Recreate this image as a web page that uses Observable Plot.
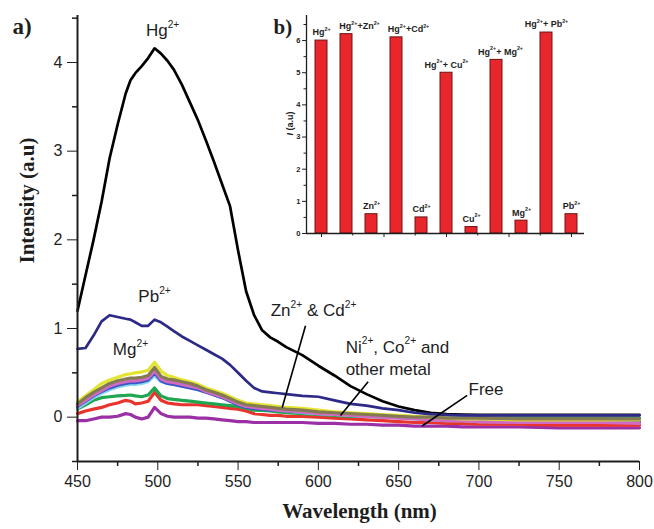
<!DOCTYPE html>
<html><head><meta charset="utf-8">
<script src="https://cdn.jsdelivr.net/npm/d3@7"></script>
<script src="https://cdn.jsdelivr.net/npm/@observablehq/plot@0.6"></script>
<style>
html,body{margin:0;padding:0;background:#fff;}
#wrap{position:relative;width:654px;height:529px;overflow:hidden;background:#fff;}
#wrap svg{position:absolute;overflow:visible;}
</style></head><body><div id="wrap"></div>
<script>
// ---------- Panel a) emission spectra ----------
const wavelengths = [450,455,460,465,470,475,480,483,486,490,494,498,502,506,510,515,520,525,530,535,540,545,550,555,560,565,570,575,580,590,600,610,620,630,640,650,660,670,680,690,700,725,750,775,800];
const hgCurve = [1.20,1.60,2.00,2.43,2.92,3.30,3.65,3.80,3.88,3.96,4.05,4.16,4.10,4.02,3.92,3.75,3.55,3.35,3.12,2.88,2.63,2.38,1.88,1.42,1.15,0.98,0.90,0.85,0.79,0.70,0.58,0.47,0.35,0.26,0.18,0.12,0.08,0.05,0.035,0.03,0.025,0.025,0.025,0.025,0.025];
const pbCurve = [0.77,0.78,0.92,1.08,1.15,1.13,1.11,1.10,1.07,1.03,1.03,1.10,1.07,1.02,0.97,0.91,0.86,0.81,0.76,0.71,0.66,0.59,0.50,0.41,0.33,0.29,0.28,0.27,0.26,0.24,0.23,0.19,0.15,0.13,0.10,0.08,0.05,0.035,0.025,0.02,0.02,0.02,0.02,0.02,0.02];
const yellowCurve = [0.17,0.24,0.31,0.38,0.42,0.45,0.48,0.49,0.50,0.51,0.53,0.62,0.52,0.47,0.45,0.42,0.40,0.37,0.33,0.30,0.27,0.23,0.19,0.16,0.15,0.14,0.13,0.12,0.11,0.10,0.08,0.06,0.05,0.04,0.03,0.02,0.01,0.00,-0.01,-0.02,-0.02,-0.03,-0.03,-0.03,-0.03];
const oliveCurve = [0.15,0.22,0.28,0.33,0.38,0.41,0.43,0.44,0.44,0.45,0.47,0.56,0.46,0.43,0.42,0.40,0.38,0.35,0.31,0.28,0.25,0.21,0.17,0.14,0.13,0.12,0.11,0.10,0.09,0.08,0.06,0.05,0.04,0.03,0.02,0.01,0.00,0.00,-0.01,-0.01,-0.01,-0.02,-0.02,-0.02,-0.02];
const pinkCurve = [0.13,0.19,0.25,0.30,0.35,0.38,0.40,0.41,0.41,0.42,0.44,0.52,0.43,0.40,0.39,0.37,0.35,0.33,0.29,0.26,0.23,0.19,0.15,0.12,0.11,0.10,0.09,0.08,0.07,0.06,0.04,0.03,0.02,0.01,0.00,-0.01,-0.02,-0.03,-0.04,-0.04,-0.05,-0.06,-0.06,-0.06,-0.07];
const blueCurve = [0.12,0.18,0.24,0.29,0.33,0.36,0.38,0.39,0.39,0.40,0.42,0.50,0.41,0.38,0.37,0.35,0.33,0.31,0.28,0.25,0.22,0.18,0.14,0.11,0.10,0.09,0.08,0.08,0.07,0.06,0.05,0.04,0.03,0.02,0.01,0.00,-0.01,-0.02,-0.03,-0.03,-0.04,-0.05,-0.05,-0.05,-0.05];
const cyanCurve = [0.10,0.16,0.22,0.27,0.31,0.34,0.36,0.37,0.37,0.38,0.40,0.47,0.40,0.38,0.37,0.35,0.34,0.32,0.30,0.27,0.24,0.20,0.16,0.13,0.11,0.10,0.09,0.08,0.07,0.05,0.04,0.03,0.02,0.01,0.00,-0.01,-0.02,-0.03,-0.04,-0.04,-0.05,-0.05,-0.06,-0.05,-0.05];
const greenCurve = [0.09,0.14,0.19,0.22,0.23,0.24,0.245,0.25,0.24,0.23,0.25,0.33,0.24,0.21,0.20,0.19,0.18,0.17,0.16,0.15,0.14,0.13,0.12,0.10,0.08,0.075,0.07,0.06,0.05,0.04,0.03,0.02,0.01,0.01,0.00,0.00,0.00,-0.01,-0.01,-0.01,-0.01,-0.01,-0.01,-0.01,-0.01];
const redCurve = [0.04,0.07,0.09,0.11,0.14,0.16,0.19,0.18,0.15,0.16,0.18,0.28,0.19,0.16,0.15,0.14,0.14,0.14,0.13,0.12,0.11,0.10,0.09,0.07,0.04,0.03,0.02,0.02,0.01,0.01,0.00,-0.01,-0.02,-0.03,-0.04,-0.05,-0.06,-0.06,-0.07,-0.07,-0.08,-0.08,-0.09,-0.09,-0.09];
const purpleCurve = [-0.04,-0.04,-0.02,0.00,0.00,0.01,0.04,0.03,0.00,-0.02,0.00,0.11,0.04,0.01,0.00,0.00,0.00,-0.01,-0.01,-0.02,-0.03,-0.04,-0.05,-0.05,-0.06,-0.06,-0.06,-0.06,-0.06,-0.06,-0.07,-0.07,-0.08,-0.08,-0.09,-0.09,-0.10,-0.10,-0.10,-0.11,-0.11,-0.11,-0.12,-0.12,-0.12];

const seriesNames  = ["Free","Cu2+","Ni2+","Co2+","other","Cd2+","Zn2+","Mg2+","Hg2+","Pb2+"];
const seriesValues = [purpleCurve,redCurve,greenCurve,cyanCurve,blueCurve,pinkCurve,yellowCurve,oliveCurve,hgCurve,pbCurve];
const seriesColors = ["#9a2fa6","#e8342c","#1fa650","#86d6ee","#3a55c8","#d06ac4","#e4e530","#847a52","#000000","#2c2a86"];

const xTicks = [450,500,550,600,650,700,750,800];
const xMinor = [475,525,575,625,675,725,775];
const yTicks = [0,1,2,3,4];
const yMinor = [-0.5,0.5,1.5,2.5,3.5,4.5];

const annotText = ["Hg^{2+}","Pb^{2+}","Mg^{2+}","Zn^{2+} & Cd^{2+}","Ni^{2+}, Co^{2+} and","other metal","Free"];
const annotX = [503,498,483,597,617,617,693.5];
const annotY = [4.36,1.36,0.76,1.20,0.79,0.54,0.31];
const pointerX1 = [592,631,692.7], pointerY1 = [1.03,0.40,0.245];
const pointerX2 = [577.5,613.8,664.6], pointerY2 = [0.11,0.02,-0.10];

// ---------- Panel b) bar inset ----------
const barLabels = ["Hg^{2+}","Hg^{2+}+Zn^{2+}","Zn^{2+}","Hg^{2+}+Cd^{2+}","Cd^{2+}","Hg^{2+}+ Cu^{2+}","Cu^{2+}","Hg^{2+}+ Mg^{2+}","Mg^{2+}","Hg^{2+}+ Pb^{2+}","Pb^{2+}"];
const barValues = [6.0,6.2,0.6,6.1,0.5,5.0,0.2,5.4,0.4,6.25,0.6];
const insetYTicks = [0,1,2,3,4,5,6];
const insetYMinor = [0.5,1.5,2.5,3.5,4.5,5.5,6.5];
const insetXTicks = [1,3.5,6,8.5,11];
const insetXMinor = [2.25,4.75,7.25,9.75];

const SANS = '"Liberation Sans", Arial, Helvetica, sans-serif';
const SERIF = '"Liberation Serif", "Times New Roman", Times, serif';
const INK = "#1e1e1e";

const lineMarks = seriesValues.map((vals, i) => {
  const rows = wavelengths.map((w, j) => ({w, v: vals[j], name: seriesNames[i]}));
  const isDark = seriesColors[i] === "#000000" || seriesColors[i] === "#2c2a86";
  return Plot.line(rows, {x: "w", y: "v", stroke: seriesColors[i], strokeWidth: isDark ? 2.7 : 3.2, strokeLinejoin: "round", curve: "linear"});
});

const annots = annotText.map((t, i) => ({t, x: annotX[i], y: annotY[i]}));
const pointers = pointerX1.map((x1, i) => ({x1, y1: pointerY1[i], x2: pointerX2[i], y2: pointerY2[i]}));

const main = Plot.plot({
  width: 654, height: 529,
  marginLeft: 77, marginRight: 15, marginTop: 15, marginBottom: 68,
  style: {fontFamily: SANS, fontSize: "16px", color: INK, background: "transparent", overflow: "visible"},
  x: {domain: [450, 800], ticks: xTicks, tickSize: 9, tickPadding: 5, label: null, tickFormat: d => String(d)},
  y: {domain: [-0.5, 4.53], ticks: yTicks, tickSize: 10, tickPadding: 5, label: null, tickFormat: d => String(d)},
  marks: [
    ...lineMarks,
    Plot.ruleX([450], {stroke: INK, strokeWidth: 2}),
    Plot.ruleY([-0.5], {stroke: INK, strokeWidth: 2}),
    Plot.ruleX(xMinor, {y1: -0.5, y2: -0.5, insetBottom: -5, stroke: INK, strokeWidth: 1.5}),
    Plot.ruleY(yMinor, {x1: 450, x2: 450, insetLeft: -5, stroke: INK, strokeWidth: 1.5}),
    Plot.link(pointers, {x1: "x1", y1: "y1", x2: "x2", y2: "y2", stroke: "#000", strokeWidth: 1.6}),
    Plot.text(annots.slice(0, 4), {x: "x", y: "y", text: "t", textAnchor: "middle", fontSize: 17, fill: INK}),
    Plot.text(annots.slice(4), {x: "x", y: "y", text: "t", textAnchor: "start", fontSize: 17, fill: INK}),
    Plot.text(["a)"], {frameAnchor: "top-left", textAnchor: "start", dx: -65, dy: 2, fontSize: 23, fontWeight: "bold", fontFamily: SERIF, fill: INK}),
    Plot.text(["Wavelength (nm)"], {frameAnchor: "bottom", dx: 1, dy: 56, fontSize: 21, fontWeight: "bold", fontFamily: SERIF, fill: INK}),
    Plot.text(["Intensity (a.u)"], {frameAnchor: "left", rotate: -90, dx: -50, dy: 25, fontSize: 21, fontWeight: "bold", fontFamily: SERIF, fill: INK})
  ]
});
main.style.left = "0px"; main.style.top = "0px";

const barRows = barLabels.map((label, i) => ({pos: i + 1, v: barValues[i], label}));
const labelShift = {"Hg^{2+}+Zn^{2+}": 13, "Hg^{2+}+Cd^{2+}": 12, "Hg^{2+}+ Mg^{2+}": 4};

const inset = Plot.plot({
  width: 340, height: 260,
  marginLeft: 46, marginRight: 16, marginTop: 15, marginBottom: 27,
  style: {fontFamily: SANS, fontSize: "7.5px", fontWeight: "bold", color: INK, background: "transparent", overflow: "visible"},
  x: {domain: [0.4, 11.52], ticks: insetXTicks, tickSize: 4, tickFormat: () => "", label: null},
  y: {domain: [0, 6.78], ticks: insetYTicks, tickSize: 4, tickPadding: 2, label: null, tickFormat: d => String(d)},
  marks: [
    Plot.rectY(barRows, {x1: d => d.pos - 0.5, x2: d => d.pos + 0.5, y1: 0, y2: "v", insetLeft: 6.5, insetRight: 6.5, fill: "#e8262b", stroke: "#6b1414", strokeWidth: 1}),
    Plot.ruleX([0.4], {stroke: INK, strokeWidth: 1.3}),
    Plot.ruleY([0], {stroke: INK, strokeWidth: 1.3}),
    Plot.ruleX(insetXMinor, {y1: 0, y2: 0, insetBottom: -2.5, stroke: INK, strokeWidth: 1}),
    Plot.ruleY(insetYMinor, {x1: 0.4, x2: 0.4, insetLeft: -2.5, stroke: INK, strokeWidth: 1}),
    Plot.text(barRows, {x: "pos", y: "v", text: "label", dy: -8, fontSize: 9, fontWeight: "bold", fill: INK, textAnchor: "middle"}),
    Plot.text(["b)"], {frameAnchor: "top-left", textAnchor: "start", dx: -33, dy: 4, fontSize: 21, fontWeight: "bold", fontFamily: SERIF, fill: INK}),
    Plot.text(["I (a.u)"], {frameAnchor: "left", rotate: -90, dx: -16, dy: 11, fontSize: 9, fontWeight: "bold", fill: INK})
  ]
});
inset.style.left = "260px"; inset.style.top = "0px";

const wrap = document.getElementById("wrap");
wrap.appendChild(main);
wrap.appendChild(inset);

// shift inset labels that were moved aside in the original to avoid overlap
inset.querySelectorAll("text").forEach(t => {
  const s = t.textContent;
  if (labelShift[s] !== undefined) {
    if (t.hasAttribute("x")) t.setAttribute("x", parseFloat(t.getAttribute("x")) + labelShift[s]);
    else t.setAttribute("transform", (t.getAttribute("transform") || "") + ` translate(${labelShift[s]},0)`);
  }
});

// rich text: superscripts and italic I
function richText(svg) {
  svg.querySelectorAll("text").forEach(t => {
    const s = t.textContent;
    const fs = parseFloat(getComputedStyle(t).fontSize) || 12;
    if (s === "I (a.u)") {
      while (t.firstChild) t.removeChild(t.firstChild);
      const a = document.createElementNS("http://www.w3.org/2000/svg", "tspan");
      a.textContent = "I"; a.setAttribute("font-style", "italic");
      const b = document.createElementNS("http://www.w3.org/2000/svg", "tspan");
      b.textContent = " (a.u)";
      t.appendChild(a); t.appendChild(b);
      return;
    }
    if (!s.includes("^{")) return;
    while (t.firstChild) t.removeChild(t.firstChild);
    const re = /\^\{([^}]*)\}/g;
    let last = 0, m;
    const parts = [];
    while ((m = re.exec(s))) {
      if (m.index > last) parts.push([s.slice(last, m.index), false]);
      parts.push([m[1], true]);
      last = re.lastIndex;
    }
    if (last < s.length) parts.push([s.slice(last), false]);
    let shift = 0;
    for (const [str, sup] of parts) {
      const ts = document.createElementNS("http://www.w3.org/2000/svg", "tspan");
      ts.textContent = str;
      const target = sup ? -0.5 * fs : 0;
      if (target !== shift) { ts.setAttribute("dy", (target - shift).toFixed(2)); shift = target; }
      if (sup) ts.setAttribute("font-size", (0.6 * fs).toFixed(2));
      t.appendChild(ts);
    }
  });
}
richText(main);
richText(inset);
</script>
</body></html>
